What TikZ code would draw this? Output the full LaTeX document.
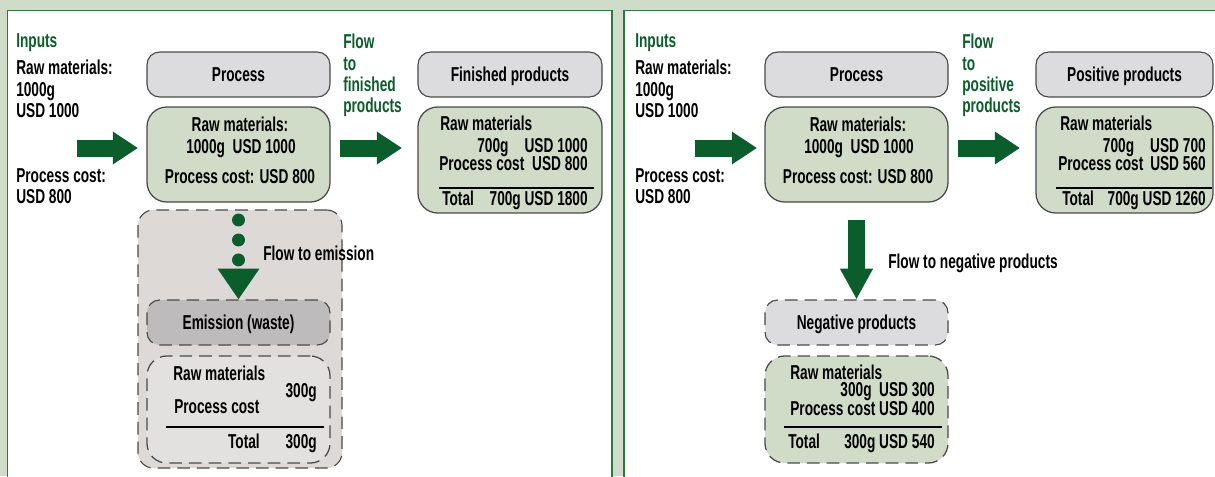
\documentclass[tikz,border=0pt]{standalone}
\usepackage{fontspec}
\setmainfont{Liberation Sans}[FakeStretch=0.68]
\usetikzlibrary{arrows.meta}

\definecolor{bggreen}{HTML}{D0DCCA}
\definecolor{panelgreen}{HTML}{2D7A40}
\definecolor{flowgreen}{HTML}{0B5E2B}
\definecolor{hdrgrey}{HTML}{DCDCDE}
\definecolor{valgreen}{HTML}{D0DCC8}
\definecolor{emgrey}{HTML}{DCD9D7}
\definecolor{emhdrgrey}{HTML}{BDBBBB}
\definecolor{emvalgrey}{HTML}{E2E1E0}
\definecolor{edgegrey}{HTML}{4A4A4A}

\newcommand\pxu{0.025cm}

\tikzset{
  txt/.style={font=\bfseries\fontsize{14.3}{15.2}\selectfont, inner sep=0pt},
  gtxt/.style={txt, text=flowgreen},
  panel/.style={draw=panelgreen, fill=white, line width=1.4pt},
  hdrbox/.style={txt, draw=edgegrey, fill=hdrgrey, line width=0.8pt, rounded corners=9pt,
    text height=10.2pt, text depth=0pt, minimum width=183*\pxu, minimum height=45*\pxu},
  valbox/.style={draw=edgegrey, fill=valgreen, line width=0.9pt, rounded corners=14pt, minimum width=183*\pxu},
  dashbox/.style={dash pattern=on 9pt off 5pt},
  flowarrow/.style={draw=flowgreen, line width=12.1pt, -{Triangle[length=17.8pt, width=22pt]}},
  downarrow/.style={draw=flowgreen, line width=12.1pt, -{Triangle[length=22pt, width=22pt]}},
  dotarrow/.style={draw=flowgreen, line width=9.2pt, line cap=round, dash pattern=on 0pt off 14.2pt,
    -{Triangle[length=22pt, width=28.4pt]}}
}

\begin{document}
\begin{tikzpicture}[x=0.025cm, y=-0.025cm]
\useasboundingbox (0,0) rectangle (1215,476);
\clip (0,0) rectangle (1215,476);
\fill[bggreen] (0,0) rectangle (1215,476);
\filldraw[panel] (7.5,10.5) rectangle (612,490);
\filldraw[panel] (624,10.5) rectangle (1230,490);

% left panel: finished products and emission
\node[gtxt, anchor=base west] (inL) at (16,47) {Inputs};
\node[txt, anchor=north west, align=left] (rawL) at (16,60) {Raw materials:\\1000g\\USD 1000};
\node[txt, anchor=north west, align=left] (costL) at (16,168) {Process cost:\\USD 800};
\node[gtxt, anchor=north west, align=left] (flowL) at (343,34) {Flow\\to\\finished\\products};

\node[hdrbox] (procL) at (238.5,74.5) {Process};
\node[valbox, minimum height=95*\pxu] (procLv) at (238.5,154.5) {};
\node[txt, anchor=base] (procLa) at (240,131.7) {Raw materials:};
\node[txt, anchor=base] (procLb) at (241,153) {1000g\ \ USD 1000};
\node[txt, anchor=base] (procLc) at (240,183) {Process cost: USD 800};

\node[hdrbox, minimum width=184*\pxu] (finL) at (510,74.5) {Finished products};
\node[valbox, minimum width=184*\pxu, minimum height=106*\pxu] (finLv) at (510,160) {};
\node[txt, anchor=base west] (finLa) at (440,130) {Raw materials};
\node[txt, anchor=base east] (finLb) at (588,152) {700g\hspace{0.8em}USD 1000};
\node[txt, anchor=base west] (finLc) at (439,170) {Process cost};
\node[txt, anchor=base east] (finLd) at (588,170) {USD 800};
\draw[line width=0.8pt] (439,188) -- (594,188);
\node[txt, anchor=base west] (finLe) at (442,205) {Total};
\node[txt, anchor=base east] (finLf) at (588,205) {700g USD 1800};

\node[fill=emgrey, draw=edgegrey, line width=0.8pt, dashbox, rounded corners=11pt,
  minimum width=204*\pxu, minimum height=258*\pxu] (emgrp) at (240,339) {};
\node[hdrbox, fill=emhdrgrey, dashbox] (emhdr) at (238.5,322.5) {Emission (waste)};
\node[valbox, fill=emvalgrey, dashbox, minimum height=107*\pxu] (emval) at (238.5,409.5) {};
\node[txt, anchor=base west] (emLa) at (173,380) {Raw materials};
\node[txt, anchor=base east] (emLb) at (317,397) {300g};
\node[txt, anchor=base west] (emLc) at (174,413) {Process cost};
\draw[line width=0.8pt] (166,427) -- (324,427);
\node[txt, anchor=base east] (emLd) at (260,448) {Total};
\node[txt, anchor=base east] (emLe) at (317,448) {300g};
\node[txt, anchor=base west] (emflow) at (263,260) {Flow to emission};

\coordinate (inLs) at (77,148);
\coordinate (inLe) at (138,148);
\coordinate (outLs) at (340,148);
\coordinate (outLe) at (402,148);
\coordinate (emstart) at (238.5,220);
\draw[flowarrow] (inLs) -- (inLe);
\draw[flowarrow] (outLs) -- (outLe);
\draw[dotarrow] (emstart) -- (emhdr.north);

% right panel: positive and negative products
\node[gtxt, anchor=base west] (inR) at (635,47) {Inputs};
\node[txt, anchor=north west, align=left] (rawR) at (635,60) {Raw materials:\\1000g\\USD 1000};
\node[txt, anchor=north west, align=left] (costR) at (635,168) {Process cost:\\USD 800};
\node[gtxt, anchor=north west, align=left] (flowR) at (962,34) {Flow\\to\\positive\\products};

\node[hdrbox] (procR) at (856.5,74.5) {Process};
\node[valbox, minimum height=95*\pxu] (procRv) at (856.5,154.5) {};
\node[txt, anchor=base] (procRa) at (858,131.7) {Raw materials:};
\node[txt, anchor=base] (procRb) at (859,153) {1000g\ \ USD 1000};
\node[txt, anchor=base] (procRc) at (858,183) {Process cost: USD 800};

\node[hdrbox, minimum width=177*\pxu] (posR) at (1124.5,74.5) {Positive products};
\node[valbox, minimum width=177*\pxu, minimum height=106*\pxu] (posRv) at (1124.5,160) {};
\node[txt, anchor=base west] (posRa) at (1060,130) {Raw materials};
\node[txt, anchor=base east] (posRb) at (1206,152) {700g\hspace{0.8em}USD 700};
\node[txt, anchor=base west] (posRc) at (1058,170) {Process cost};
\node[txt, anchor=base east] (posRd) at (1206,170) {USD 560};
\draw[line width=0.8pt] (1056,188) -- (1212,188);
\node[txt, anchor=base west] (posRe) at (1062,205) {Total};
\node[txt, anchor=base east] (posRf) at (1206,205) {700g USD 1260};

\node[hdrbox, dashbox] (negR) at (856.5,322.5) {Negative products};
\node[valbox, dashbox, minimum height=107*\pxu] (negRv) at (856.5,409.5) {};
\node[txt, anchor=base west] (negRa) at (790,379) {Raw materials};
\node[txt, anchor=base east] (negRb) at (935,396) {300g\ \ USD 300};
\node[txt, anchor=base east] (negRc) at (935,415) {Process cost USD 400};
\draw[line width=0.8pt] (784,427) -- (942,427);
\node[txt, anchor=base west] (negRd) at (788,448) {Total};
\node[txt, anchor=base east] (negRe) at (935,448) {300g USD 540};
\node[txt, anchor=base west] (negflow) at (888,268) {Flow to negative products};

\coordinate (inRs) at (695,148);
\coordinate (inRe) at (757,148);
\coordinate (outRs) at (958,148);
\coordinate (outRe) at (1020,148);
\coordinate (negstart) at (856.5,220);
\draw[flowarrow] (inRs) -- (inRe);
\draw[flowarrow] (outRs) -- (outRe);
\draw[downarrow] (negstart) -- (negR.north);
\end{tikzpicture}
\end{document}
